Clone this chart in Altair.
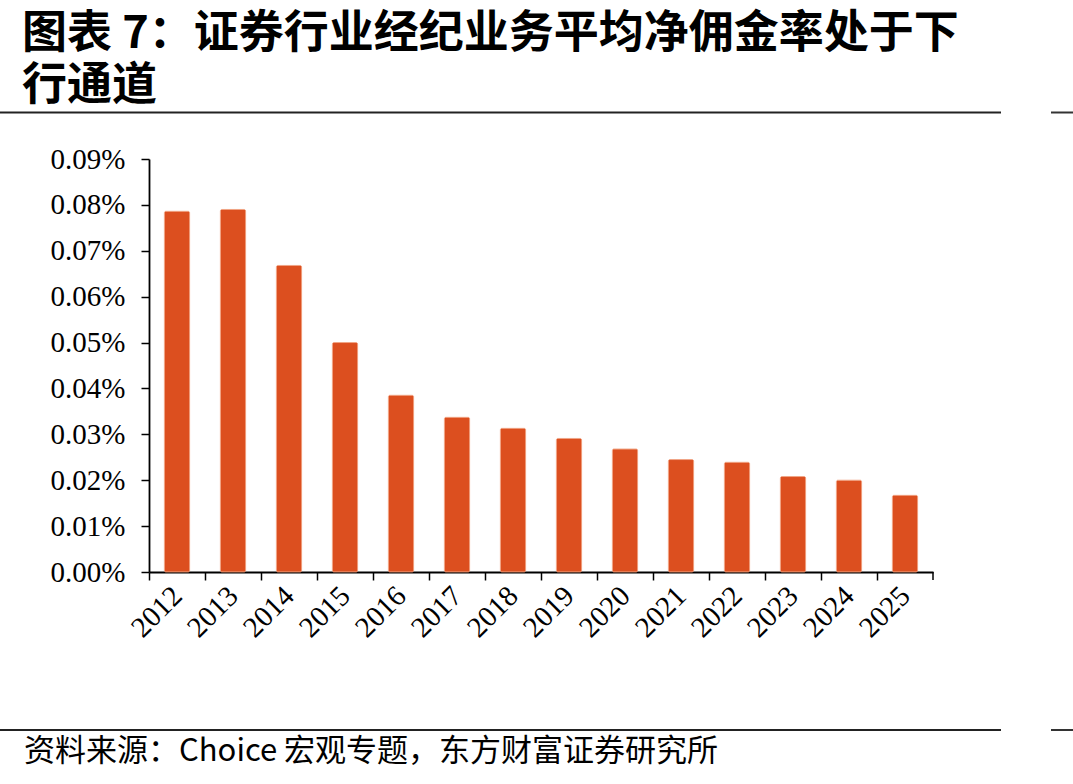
import altair as alt
import pandas as pd

# Average net brokerage commission rate of the securities industry (%)
years = ["2012", "2013", "2014", "2015", "2016", "2017", "2018",
         "2019", "2020", "2021", "2022", "2023", "2024", "2025"]
rates = [0.0786, 0.0790, 0.0668, 0.0500, 0.0385, 0.0337, 0.0313,
         0.0291, 0.0268, 0.0245, 0.0239, 0.0208, 0.0200, 0.0167]
y_ticks = [0.00, 0.01, 0.02, 0.03, 0.04, 0.05, 0.06, 0.07, 0.08, 0.09]

title_lines = ["图表 7：证券行业经纪业务平均净佣金率处于下", "行通道"]
source_text = "资料来源：Choice 宏观专题，东方财富证券研究所"

W, H = 784, 413          # plot area
LEFT, TOP = 149, 159     # plot origin inside the 1073x784 canvas
STEP = W / len(years)

df = pd.DataFrame({"year": years, "rate": rates})
one = pd.DataFrame({"k": [0]})

BAR = "#DC4F1F"
SERIF = "Liberation Serif"
CJK = "Noto Sans CJK SC"

bars = alt.Chart(df).mark_bar(
    color=BAR, stroke="#EE9470", strokeWidth=0.8, cornerRadius=1.5
).encode(
    x=alt.X(
        "year:N",
        sort=years,
        scale=alt.Scale(paddingInner=0.55, paddingOuter=0.275),
        axis=alt.Axis(
            title=None,
            labelAngle=-45,
            labelAlign="right",
            labelBaseline="middle",
            labelFont=SERIF,
            labelFontSize=29,
            labelColor="#000000",
            labelPadding=11,
            tickOffset=-STEP / 2,
            labelOffset=STEP / 2,
            tickSize=8,
            tickColor="#000000",
            tickWidth=1.5,
            domainColor="#000000",
            domainWidth=1.8,
        ),
    ),
    y=alt.Y(
        "rate:Q",
        scale=alt.Scale(domain=[0, 0.09], nice=False),
        axis=alt.Axis(
            title=None,
            values=y_ticks,
            labelExpr="format(datum.value, '.2f') + '%'",
            labelFont=SERIF,
            labelFontSize=29,
            labelColor="#000000",
            labelPadding=16,
            tickSize=8,
            tickColor="#000000",
            tickWidth=1.5,
            domainColor="#000000",
            domainWidth=1.8,
            grid=False,
        ),
    ),
)

# closing tick at the right end of the category axis
end_tick = alt.Chart(one).mark_rule(color="#000000", strokeWidth=1.5).encode(
    x=alt.value(W), y=alt.value(H), y2=alt.value(H + 8)
)

# horizontal separator rules above and below the figure
def hrule(y, x0, x1, color="#222222", width=2):
    return alt.Chart(one).mark_rule(color=color, strokeWidth=width).encode(
        x=alt.value(x0 - LEFT), x2=alt.value(x1 - LEFT), y=alt.value(y - TOP)
    )

rules = [
    hrule(112.5, 0, 1001), hrule(112.5, 1051, 1073, "#333333"),
    hrule(730, 0, 1001), hrule(730, 1051, 1073, "#333333"),
]

title1 = alt.Chart(one).mark_text(
    text=title_lines[0], font=CJK, fontSize=45, fontWeight="bold",
    align="left", baseline="alphabetic", color="#000000"
).encode(x=alt.value(22 - LEFT), y=alt.value(48 - TOP))

title2 = alt.Chart(one).mark_text(
    text=title_lines[1], font=CJK, fontSize=45, fontWeight="bold",
    align="left", baseline="alphabetic", color="#000000"
).encode(x=alt.value(22 - LEFT), y=alt.value(100 - TOP))

source = alt.Chart(one).mark_text(
    text=source_text, font=CJK, fontSize=31,
    align="left", baseline="middle", color="#000000"
).encode(x=alt.value(24 - LEFT), y=alt.value(752 - TOP))

chart = alt.layer(
    bars, end_tick, *rules, title1, title2, source
).properties(
    width=W,
    height=H,
    autosize=alt.AutoSizeParams(type="none"),
    padding={"left": LEFT, "top": TOP, "right": 1073 - LEFT - W, "bottom": 784 - TOP - H},
    background="#ffffff",
).configure_view(stroke=None)

chart.save("out.html", embed_options={"renderer": "svg", "actions": False})
